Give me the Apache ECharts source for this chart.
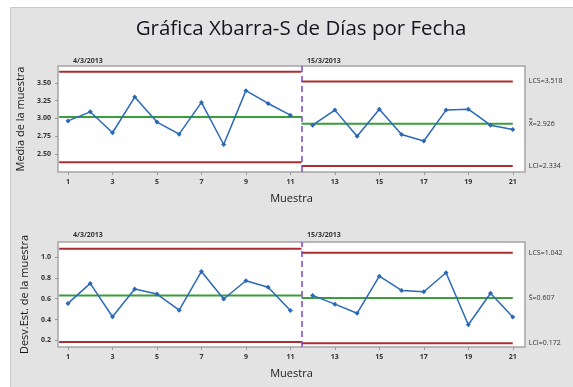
<!DOCTYPE html>
<html>
<head>
<meta charset="utf-8">
<script src="https://cdn.jsdelivr.net/npm/echarts@6/dist/echarts.min.js"></script>
<style>
  html, body { margin: 0; padding: 0; background: #fff; }
  #chart { width: 573px; height: 387px; }
</style>
</head>
<body>
<div id="chart"></div>
<script>
// Sample numbers (x axis)
const samples = [1, 2, 3, 4, 5, 6, 7, 8, 9, 10, 11, 12, 13, 14, 15, 16, 17, 18, 19, 20, 21];
// Sample means (Xbar)
const meanValues = [2.966, 3.093, 2.80, 3.30, 2.95, 2.78, 3.225, 2.635, 3.39, 3.21, 3.046,
                    2.906, 3.117, 2.75, 3.13, 2.775, 2.685, 3.117, 3.13, 2.906, 2.845];
// Sample standard deviations (S)
const sdValues = [0.555, 0.747, 0.427, 0.693, 0.645, 0.49, 0.862, 0.597, 0.773, 0.71, 0.487,
                  0.632, 0.548, 0.46, 0.817, 0.68, 0.667, 0.85, 0.35, 0.652, 0.425];

// Phases (by date) and the sample range each one covers
const phaseDates = ['4/3/2013', '15/3/2013'];
const phaseFirstSample = [1, 12];
const phaseLastSample = [11, 21];
const phaseLineStart = [0.6, 11.5];
const phaseLineEnd = [11.5, 21];
const phaseBreak = 11.5;

// Control limits per phase
const meanUCL = [3.654, 3.518];
const meanCL = [3.02, 2.926];
const meanLCL = [2.386, 2.334];
const sdUCL = [1.08, 1.042];
const sdCL = [0.632, 0.607];
const sdLCL = [0.184, 0.172];

// Tick labels
const xTicks = [1, 3, 5, 7, 9, 11, 13, 15, 17, 19, 21];
const meanTicks = [2.5, 2.75, 3.0, 3.25, 3.5];
const sdTicks = [0.2, 0.4, 0.6, 0.8, 1.0];

const BLUE = '#2a68b8';
const GREEN = '#3a9e3a';
const RED = '#ad2e2e';
const PURPLE = '#7b45d6';
const FONT = '"Open Sans", "Noto Sans", sans-serif';

const tickLabel = { fontSize: 7, fontWeight: 'bold', color: '#333', fontFamily: FONT };

function xAxisFor(g) {
  return {
    type: 'value', gridIndex: g, min: 0.55, max: 21.55,
    name: 'Muestra', nameLocation: 'middle', nameGap: 21,
    nameTextStyle: { fontSize: 11, color: '#1a1a1a', fontWeight: 500, fontFamily: FONT },
    axisLine: { show: false },
    splitLine: { show: false },
    axisTick: { show: true, length: 3, customValues: xTicks, lineStyle: { color: '#999' } },
    axisLabel: Object.assign({ customValues: xTicks, margin: 6 }, tickLabel)
  };
}

function yAxisFor(g, min, max, ticks, name, digits) {
  return {
    type: 'value', gridIndex: g, min: min, max: max,
    name: name, nameLocation: 'middle', nameGap: 28, nameRotate: 90,
    nameTextStyle: { fontSize: 11, color: '#1a1a1a', fontWeight: 500, fontFamily: FONT },
    axisLine: { show: false },
    splitLine: { show: false },
    axisTick: { show: true, length: 3, customValues: ticks, lineStyle: { color: '#999' } },
    axisLabel: Object.assign({ customValues: ticks, margin: 7,
      formatter: v => v.toFixed(digits) }, tickLabel)
  };
}

function phaseSeries(g, values, ucl, cl, lcl, labels) {
  const out = [];
  for (let p = 0; p < phaseDates.length; p++) {
    const pts = [];
    for (let i = 0; i < samples.length; i++) {
      if (samples[i] >= phaseFirstSample[p] && samples[i] <= phaseLastSample[p]) {
        pts.push([samples[i], values[i]]);
      }
    }
    const last = p === phaseDates.length - 1;
    const limit = (v, color, text) => ({
      type: 'line', xAxisIndex: g, yAxisIndex: g, silent: true,
      showSymbol: false, symbol: 'none', z: 2,
      lineStyle: { color: color, width: 2 },
      data: [[phaseLineStart[p], v], [phaseLineEnd[p], v]],
      endLabel: {
        show: last, distance: 16, fontSize: 7, color: '#333', fontFamily: FONT,
        formatter: () => text
      }
    });
    out.push(limit(ucl[p], RED, labels[0] + ucl[p].toFixed(3)));
    out.push(limit(cl[p], GREEN, labels[1] + cl[p].toFixed(3)));
    out.push(limit(lcl[p], RED, labels[2] + lcl[p].toFixed(3)));
    const s = {
      type: 'line', xAxisIndex: g, yAxisIndex: g, z: 3,
      data: pts, symbol: 'diamond', symbolSize: 5, showAllSymbol: true,
      lineStyle: { color: BLUE, width: 1.5 },
      itemStyle: { color: BLUE }
    };
    if (p === 0) {
      s.markLine = {
        silent: true, symbol: 'none', label: { show: false },
        lineStyle: { color: PURPLE, type: [6, 4], width: 1.5 },
        data: [{ xAxis: phaseBreak }]
      };
    }
    out.push(s);
  }
  return out;
}

const chart = echarts.init(document.getElementById('chart'), null, { renderer: 'canvas' });

const dateText = (x, y, t) => ({
  type: 'text', left: x, top: y,
  style: { text: t, fontSize: 7, fontWeight: 'bold', fill: '#333', fontFamily: FONT }
});

chart.setOption({
  backgroundColor: '#ffffff',
  animation: false,
  title: {
    text: 'Gráfica Xbarra-S de Días por Fecha',
    left: 296, top: 14, textAlign: 'center',
    textStyle: { fontSize: 20.5, fontWeight: 'normal', color: '#15151f', fontFamily: FONT }
  },
  graphic: [
    { type: 'rect', left: 10, top: 7, z: -10, silent: true,
      shape: { width: 563, height: 380 },
      style: { fill: '#e3e3e3', stroke: '#c9c9c9', lineWidth: 1 } },
    dateText(73, 57, phaseDates[0]),
    dateText(307, 57, phaseDates[1]),
    dateText(73, 231, phaseDates[0]),
    dateText(307, 231, phaseDates[1])
  ],
  grid: [
    { left: 58, right: 48, top: 66, height: 106, show: true,
      backgroundColor: '#fff', borderColor: '#a5a5a5', borderWidth: 1.5 },
    { left: 58, right: 48, top: 242, height: 105, show: true,
      backgroundColor: '#fff', borderColor: '#a5a5a5', borderWidth: 1.5 }
  ],
  xAxis: [xAxisFor(0), xAxisFor(1)],
  yAxis: [
    yAxisFor(0, 2.25, 3.735, meanTicks, 'Media de la muestra', 2),
    yAxisFor(1, 0.136, 1.145, sdTicks, 'Desv.Est. de la muestra', 1)
  ],
  series: [
    ...phaseSeries(0, meanValues, meanUCL, meanCL, meanLCL, ['LCS=', 'X\u033F=', 'LCI=']),
    ...phaseSeries(1, sdValues, sdUCL, sdCL, sdLCL, ['LCS=', 'S\u0304=', 'LCI='])
  ]
});
</script>
</body>
</html>
